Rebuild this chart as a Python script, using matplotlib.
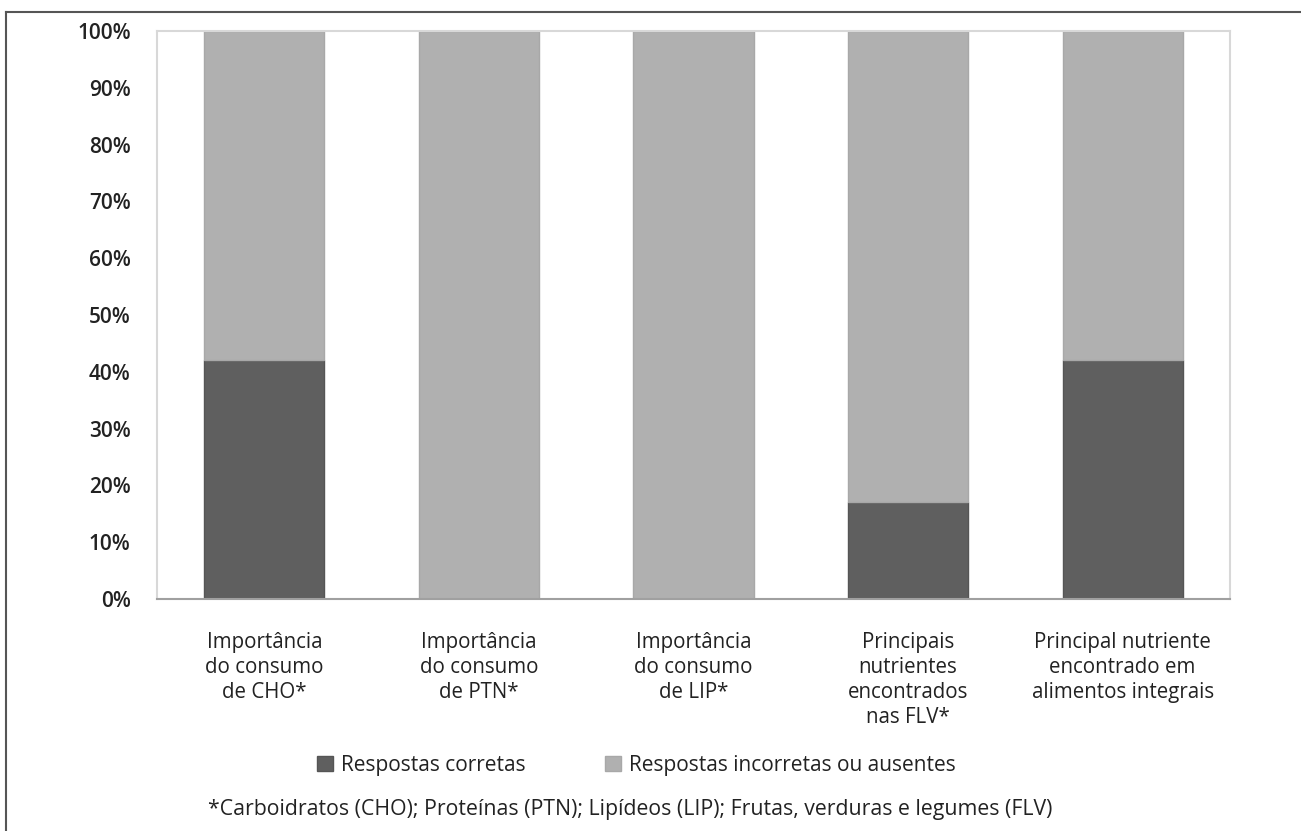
import matplotlib
matplotlib.use("Agg")
from matplotlib import pyplot as plt
from matplotlib.lines import Line2D
from matplotlib.ticker import FuncFormatter

categorias = [
    "Importância\ndo consumo\nde CHO*",
    "Importância\ndo consumo\nde PTN*",
    "Importância\ndo consumo\nde LIP*",
    "Principais\nnutrientes\nencontrados\nnas FLV*",
    "Principal nutriente\nencontrado em\nalimentos integrais",
]
corretas = [42, 0, 0, 17, 42]
incorretas = [58, 100, 100, 83, 58]
nomes_series = ["Respostas corretas", "Respostas incorretas ou ausentes"]
nota = "*Carboidratos (CHO); Proteínas (PTN); Lipídeos (LIP); Frutas, verduras e legumes (FLV)"

plt.rcParams['font.family'] = ['Open Sans', 'DejaVu Sans']

fig = plt.figure(figsize=(13.01, 8.31), dpi=100)
ax = fig.add_axes([0.1207, 0.2792, 0.8247, 0.6835])

x = list(range(len(categorias)))
b1 = ax.bar(x, corretas, width=0.56, color='#5f5f5f', edgecolor='#555555', linewidth=1)
b2 = ax.bar(x, incorretas, width=0.56, bottom=corretas, color='#b0b0b0', edgecolor='#a8a8a8', linewidth=1)

ax.set_xlim(-0.5, len(categorias) - 0.5)
ax.set_ylim(0, 100)
ax.set_yticks(range(0, 101, 10))
ax.yaxis.set_major_formatter(FuncFormatter(lambda v, p: "%d%%" % v))
ax.set_xticks(x)
ax.set_xticklabels(categorias, fontsize=14.8, color='#222222', linespacing=1.25)
ax.tick_params(axis='y', length=0, pad=19, labelsize=15, labelcolor='#222222')
ax.tick_params(axis='x', length=0, pad=24)
for lab in ax.get_yticklabels():
    lab.set_fontweight('semibold')

for s in ['top', 'right', 'left']:
    ax.spines[s].set_color('#d8d8d8')
    ax.spines[s].set_linewidth(1.5)
ax.spines['bottom'].set_color('#a0a0a0')
ax.spines['bottom'].set_linewidth(1.5)

leg = fig.legend([b1, b2], nomes_series, loc='center', bbox_to_anchor=(0.4892, 0.0794),
                 ncol=2, frameon=False, fontsize=15, handlelength=0.75, handleheight=0.75,
                 handletextpad=0.4, columnspacing=3.8)
for t in leg.get_texts():
    t.set_color('#222222')

fig.text(0.4842, 0.0253, nota, ha='center', va='center', fontsize=15.3, color='#222222')

# moldura da figura
fig.add_artist(Line2D([6 / 1301, 1], [1 - 12 / 831, 1 - 12 / 831], color='#555555', linewidth=1.5))
fig.add_artist(Line2D([6 / 1301, 6 / 1301], [0, 1 - 12 / 831], color='#555555', linewidth=1.5))

fig.savefig("out.png", dpi=100)
